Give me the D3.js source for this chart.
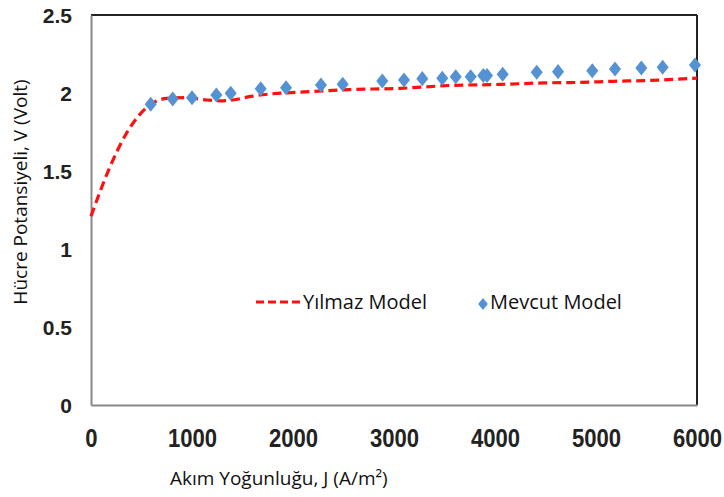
<!DOCTYPE html>
<html>
<head>
<meta charset="utf-8">
<script src="https://cdn.jsdelivr.net/npm/d3@7"></script>
<style>
  body { margin: 0; background: #fff; }
  svg { display: block; }
</style>
</head>
<body>
<svg width="724" height="497"></svg>
<script>
// Yılmaz model (kesikli kırmızı çizgi)
var yilmazJ = [0, 190, 350, 480, 610, 750, 950, 1150, 1280, 1400, 1600, 1800, 2070, 2560, 3060, 3550, 4050, 4500, 4850, 5170, 5500, 6000];
var yilmazV = [1.21, 1.53, 1.74, 1.86, 1.935, 1.965, 1.97, 1.955, 1.95, 1.955, 1.98, 1.995, 2.005, 2.022, 2.03, 2.048, 2.055, 2.065, 2.068, 2.075, 2.08, 2.095];

// Mevcut model (mavi elmaslar)
var mevcutJ = [591, 809, 1000, 1241, 1383, 1680, 1931, 2277, 2492, 2884, 3099, 3280, 3478, 3611, 3759, 3884, 3921, 4076, 4413, 4624, 4963, 5188, 5449, 5660, 5980];
var mevcutV = [1.928, 1.962, 1.97, 1.987, 1.998, 2.027, 2.034, 2.051, 2.056, 2.077, 2.083, 2.092, 2.094, 2.104, 2.104, 2.112, 2.112, 2.12, 2.133, 2.137, 2.143, 2.154, 2.16, 2.165, 2.179];

var xTicks = [0, 1000, 2000, 3000, 4000, 5000, 6000];
var yTicks = [0, 0.5, 1, 1.5, 2, 2.5];

var margin = {top: 15, right: 27, bottom: 92, left: 91},
    width = 724 - margin.left - margin.right,
    height = 497 - margin.top - margin.bottom;

var svg = d3.select("svg")
            .append("g")
            .attr("transform", "translate(" + margin.left + "," + margin.top + ")");

var x = d3.scaleLinear().domain([0, 6000]).range([0, width]);
var y = d3.scaleLinear().domain([0, 2.5]).range([height, 0]);

// frame: gray left/bottom, dark top/right
svg.append("line").attr("x1", 0).attr("x2", width).attr("y1", 0).attr("y2", 0)
   .attr("stroke", "#222").attr("stroke-width", 2);
svg.append("line").attr("x1", width).attr("x2", width).attr("y1", 0).attr("y2", height)
   .attr("stroke", "#222").attr("stroke-width", 2);

var xAxis = svg.append("g")
   .attr("transform", "translate(0," + height + ")")
   .call(d3.axisBottom(x).tickValues(xTicks).tickSize(0).tickPadding(0).tickFormat(d3.format("d")));
xAxis.select(".domain").attr("stroke", "#888").attr("stroke-width", 2);
// labels are a bit condensed in the original
xAxis.selectAll(".tick text")
     .attr("y", 0)
     .attr("dy", 0)
     .attr("transform", "translate(0,42) scale(0.85,1)")
     .style("font-family", "Liberation Sans, Arial, sans-serif")
     .style("font-weight", "bold")
     .style("font-size", "26px")
     .attr("fill", "#222");

var yAxis = svg.append("g")
   .call(d3.axisLeft(y).tickValues(yTicks).tickSize(0).tickPadding(19).tickFormat(function(d){ return String(d); }));
yAxis.select(".domain").attr("stroke", "#888").attr("stroke-width", 2);
yAxis.selectAll("text")
     .attr("dy", "0.36em")
     .style("font-family", "Liberation Sans, Arial, sans-serif")
     .style("font-weight", "bold")
     .style("font-size", "21px")
     .attr("fill", "#222");

// red dashed line
var line = d3.line()
             .x(function(d){ return x(d[0]); })
             .y(function(d){ return y(d[1]); })
             .curve(d3.curveMonotoneX);
svg.append("path")
   .datum(d3.zip(yilmazJ, yilmazV))
   .attr("d", line)
   .attr("fill", "none")
   .attr("stroke", "#ff1010")
   .attr("stroke-width", 3.2)
   .attr("stroke-dasharray", "9,5");

// wider diamond than d3.symbolDiamond
var wideDiamond = {
  draw: function(ctx, size) {
    var h = Math.sqrt(size) * 0.9, w = h * 0.8;
    ctx.moveTo(0, -h); ctx.lineTo(w, 0); ctx.lineTo(0, h); ctx.lineTo(-w, 0); ctx.closePath();
  }
};
var diamond = d3.symbol().type(wideDiamond).size(70);
svg.selectAll(".pt")
   .data(d3.zip(mevcutJ, mevcutV))
   .enter()
   .append("path")
   .attr("class", "pt")
   .attr("d", diamond)
   .attr("transform", function(d){ return "translate(" + x(d[0]) + "," + y(d[1]) + ")"; })
   .attr("fill", "#5592d3");

// legend
var lg = svg.append("g").attr("transform", "translate(165,287)");
lg.append("line").attr("x1", 0).attr("x2", 44).attr("y1", 0).attr("y2", 0)
  .attr("stroke", "#ff1010").attr("stroke-width", 3.2).attr("stroke-dasharray", "8,4");
lg.append("text").attr("x", 47).attr("y", 0).attr("dy", "0.35em")
  .style("font-family", "Open Sans, sans-serif").style("font-size", "20px")
  .attr("fill", "#111").text("Yılmaz Model");
lg.append("path").attr("d", d3.symbol().type(wideDiamond).size(45)).attr("transform", "translate(227,2)").attr("fill", "#5592d3");
lg.append("text").attr("x", 234).attr("y", 0).attr("dy", "0.35em")
  .style("font-family", "Open Sans, sans-serif").style("font-size", "20px")
  .attr("fill", "#111").text("Mevcut Model");

// axis titles
svg.append("text")
   .attr("x", 79).attr("y", height + 80)
   .style("font-family", "Open Sans, sans-serif").style("font-size", "19px")
   .attr("fill", "#111")
   .text("Akım Yoğunluğu, J (A/m²)");

svg.append("text")
   .attr("transform", "translate(-64," + (192 - margin.top) + ") rotate(-90)")
   .attr("text-anchor", "middle")
   .style("font-family", "Open Sans, sans-serif").style("font-size", "19px")
   .attr("fill", "#111")
   .text("Hücre Potansiyeli, V (Volt)");
</script>
</body>
</html>
